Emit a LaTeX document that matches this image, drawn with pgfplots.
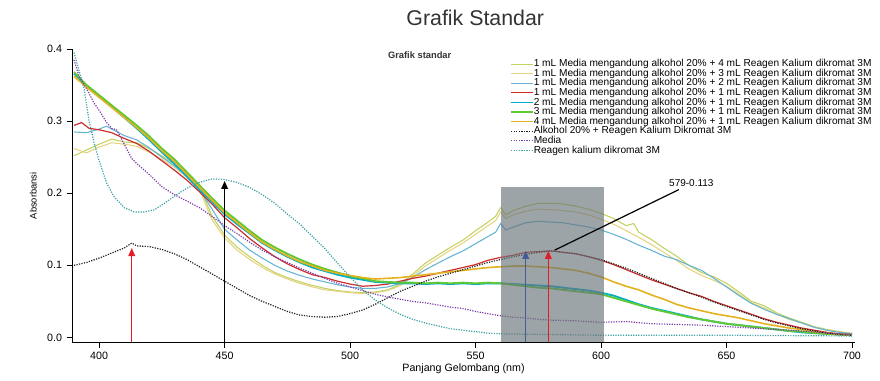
\documentclass[border=0pt]{standalone}
\usepackage{fontspec}
\setmainfont{Liberation Sans}
\usepackage{pgfplots}
\pgfplotsset{compat=1.18}
\usetikzlibrary{arrows.meta}
\definecolor{cA}{RGB}{195,210,95}
\definecolor{cB}{RGB}{228,212,130}
\definecolor{cC}{RGB}{100,180,210}
\definecolor{cD}{RGB}{205,45,45}
\definecolor{cE}{RGB}{0,175,205}
\definecolor{cF}{RGB}{95,200,50}
\definecolor{cG}{RGB}{228,178,30}
\definecolor{cH}{RGB}{30,30,30}
\definecolor{cI}{RGB}{125,60,170}
\definecolor{cJ}{RGB}{60,160,165}
\definecolor{grayfill}{RGB}{105,115,120}
\definecolor{arrblue}{RGB}{70,90,150}
\definecolor{arrred}{RGB}{225,30,35}
\begin{document}
\begin{tikzpicture}
\begin{axis}[
  scale only axis, width=587pt, height=220pt,
  xmin=389.2, xmax=701.2, ymin=-0.007, ymax=0.4,
  axis x line*=bottom, axis y line*=left,
  axis line style={-, black, line width=0.5pt},
  xtick={400,450,...,700}, ytick={0,0.1,0.2,0.3,0.4},
  tick align=outside, major tick length=4pt,
  tick style={black, line width=0.5pt},
  tick label style={font=\fontsize{8}{9}\selectfont},
  /pgf/number format/assume math mode=true,
  yticklabel style={/pgf/number format/.cd, fixed, precision=1, fixed zerofill},
  xticklabel style={/pgf/number format/.cd, 1000 sep={}},
  xlabel={Panjang Gelombang (nm)}, ylabel={Absorbansi},
  every axis x label/.style={at={(rel axis cs:0.5,0)}, yshift=-20pt, anchor=center, font=\fontsize{8}{9}\selectfont},
  every axis y label/.style={at={(rel axis cs:0,0.5)}, xshift=-29pt, rotate=90, anchor=center, font=\fontsize{7}{8}\selectfont},
  clip=false,
  legend style={at={(0.5594,0.966)}, anchor=north west, draw=none, fill=none,
    font=\fontsize{7.6}{7.6}\selectfont, row sep=0pt, inner sep=0pt,
    nodes={inner sep=0.2pt, text height=5.3pt, text depth=1.5pt}},
  legend image code/.code={\draw[#1] (0pt,0pt) -- (16pt,0pt);},
  legend cell align=left,
]
% 1 mL + 4 mL
\addplot[cA, line width=0.8pt] coordinates {(390,0.252)(395,0.260)(400,0.268)(405,0.275)(410,0.271)(415,0.270)(420,0.262)(425,0.252)(430,0.240)(435,0.226)(440,0.210)(445,0.168)(450,0.142)(455,0.125)(460,0.112)(465,0.100)(470,0.090)(475,0.083)(480,0.077)(485,0.072)(490,0.068)(495,0.065)(500,0.063)(505,0.062)(510,0.063)(515,0.066)(520,0.074)(525,0.088)(530,0.103)(535,0.114)(540,0.125)(545,0.135)(550,0.148)(555,0.160)(558,0.168)(560,0.180)(562,0.170)(565,0.176)(570,0.182)(575,0.186)(580,0.186)(585,0.185)(590,0.182)(595,0.178)(600,0.172)(605,0.165)(610,0.155)(613,0.158)(615,0.146)(620,0.136)(625,0.124)(630,0.113)(635,0.100)(640,0.090)(645,0.084)(650,0.075)(655,0.063)(660,0.050)(665,0.044)(670,0.034)(675,0.027)(680,0.021)(685,0.015)(690,0.011)(695,0.008)(700,0.006)};
\addlegendentry{1 mL Media mengandung alkohol 20\% + 4 mL Reagen Kalium dikromat 3M}
% 1 mL + 3 mL
\addplot[cB, line width=0.8pt] coordinates {(390,0.262)(395,0.256)(400,0.264)(405,0.270)(410,0.268)(415,0.265)(420,0.257)(425,0.247)(430,0.236)(435,0.222)(440,0.205)(445,0.163)(450,0.138)(455,0.121)(460,0.108)(465,0.097)(470,0.088)(475,0.081)(480,0.075)(485,0.070)(490,0.066)(495,0.064)(500,0.062)(505,0.061)(510,0.062)(515,0.065)(520,0.072)(525,0.085)(530,0.099)(535,0.110)(540,0.121)(545,0.131)(550,0.143)(555,0.155)(558,0.162)(560,0.174)(562,0.165)(565,0.170)(570,0.175)(575,0.178)(580,0.177)(585,0.176)(590,0.174)(595,0.170)(600,0.164)(605,0.157)(610,0.148)(615,0.139)(620,0.129)(625,0.118)(630,0.107)(635,0.095)(640,0.086)(645,0.079)(650,0.071)(655,0.060)(660,0.048)(665,0.041)(670,0.032)(675,0.025)(680,0.020)(685,0.014)(690,0.010)(695,0.007)(700,0.005)};
\addlegendentry{1 mL Media mengandung alkohol 20\% + 3 mL Reagen Kalium dikromat 3M}
% 1 mL + 2 mL
\addplot[cC, line width=0.8pt] coordinates {(390,0.285)(395,0.284)(400,0.289)(403,0.293)(405,0.289)(410,0.280)(415,0.274)(420,0.263)(425,0.250)(430,0.238)(435,0.224)(440,0.205)(445,0.178)(450,0.150)(455,0.135)(460,0.121)(465,0.110)(470,0.100)(475,0.092)(480,0.086)(485,0.081)(490,0.077)(495,0.073)(500,0.070)(505,0.068)(510,0.068)(515,0.070)(520,0.075)(525,0.083)(530,0.094)(535,0.103)(540,0.112)(545,0.120)(550,0.130)(555,0.140)(558,0.146)(560,0.158)(562,0.149)(565,0.153)(570,0.159)(575,0.161)(580,0.160)(585,0.159)(590,0.156)(595,0.153)(600,0.149)(605,0.143)(610,0.136)(615,0.128)(620,0.121)(625,0.113)(630,0.108)(635,0.100)(640,0.093)(645,0.082)(650,0.070)(655,0.058)(660,0.047)(665,0.039)(670,0.032)(675,0.026)(680,0.020)(685,0.014)(690,0.010)(695,0.007)(700,0.005)};
\addlegendentry{1 mL Media mengandung alkohol 20\% + 2 mL Reagen Kalium dikromat 3M}
% 1 mL + 1 mL
\addplot[cD, line width=0.9pt] coordinates {(390,0.294)(393,0.298)(396,0.290)(400,0.288)(405,0.284)(410,0.276)(415,0.269)(420,0.258)(425,0.245)(430,0.232)(435,0.218)(440,0.202)(445,0.185)(450,0.166)(455,0.152)(460,0.137)(465,0.124)(470,0.112)(475,0.102)(480,0.094)(485,0.087)(490,0.083)(495,0.078)(500,0.074)(505,0.071)(510,0.072)(515,0.074)(520,0.078)(525,0.082)(530,0.085)(535,0.089)(540,0.093)(545,0.097)(550,0.101)(555,0.107)(560,0.111)(565,0.114)(570,0.118)(575,0.119)(580,0.120)(585,0.118)(590,0.116)(595,0.112)(600,0.107)(605,0.101)(610,0.094)(615,0.087)(620,0.080)(625,0.074)(630,0.068)(635,0.062)(640,0.057)(645,0.050)(650,0.044)(655,0.038)(660,0.032)(665,0.026)(670,0.021)(675,0.017)(680,0.013)(685,0.010)(690,0.007)(695,0.005)(700,0.004)};
\addlegendentry{1 mL Media mengandung alkohol 20\% + 1 mL Reagen Kalium dikromat 3M}
% 2 mL
\addplot[cE, line width=1.4pt] coordinates {(390,0.366)(395,0.349)(400,0.334)(405,0.320)(410,0.305)(415,0.290)(420,0.274)(425,0.257)(430,0.241)(435,0.223)(440,0.205)(445,0.188)(450,0.171)(455,0.157)(460,0.144)(465,0.131)(470,0.121)(475,0.112)(480,0.104)(485,0.097)(490,0.092)(495,0.087)(500,0.083)(505,0.080)(510,0.077)(515,0.076)(520,0.075)(525,0.075)(530,0.074)(535,0.075)(540,0.074)(545,0.075)(550,0.074)(555,0.075)(560,0.075)(565,0.074)(570,0.073)(575,0.072)(580,0.071)(585,0.069)(590,0.067)(595,0.065)(600,0.062)(605,0.058)(610,0.052)(615,0.046)(620,0.041)(625,0.037)(630,0.033)(635,0.029)(640,0.025)(645,0.022)(650,0.019)(655,0.017)(660,0.015)(665,0.013)(670,0.011)(675,0.009)(680,0.007)(685,0.006)(690,0.005)(695,0.004)(700,0.003)};
\addlegendentry{2 mL Media mengandung alkohol 20\% + 1 mL Reagen Kalium dikromat 3M}
% 3 mL
\addplot[cF, line width=1.4pt] coordinates {(390,0.368)(395,0.350)(400,0.336)(405,0.322)(410,0.308)(415,0.294)(420,0.279)(425,0.262)(430,0.247)(435,0.229)(440,0.211)(445,0.193)(450,0.176)(455,0.162)(460,0.148)(465,0.135)(470,0.125)(475,0.116)(480,0.108)(485,0.101)(490,0.095)(495,0.090)(500,0.085)(505,0.082)(510,0.078)(515,0.077)(520,0.076)(525,0.076)(530,0.075)(535,0.076)(540,0.075)(545,0.076)(550,0.075)(555,0.076)(560,0.075)(565,0.073)(570,0.071)(575,0.069)(580,0.068)(585,0.066)(590,0.064)(595,0.062)(600,0.060)(605,0.055)(610,0.050)(615,0.045)(620,0.040)(625,0.036)(630,0.032)(635,0.028)(640,0.025)(645,0.022)(650,0.019)(655,0.017)(660,0.015)(665,0.013)(670,0.011)(675,0.009)(680,0.008)(685,0.006)(690,0.005)(695,0.004)(700,0.003)};
\addlegendentry{3 mL Media mengandung alkohol 20\% + 1 mL Reagen Kalium dikromat 3M}
% 4 mL
\addplot[cG, line width=1.2pt] coordinates {(390,0.362)(395,0.347)(400,0.333)(405,0.319)(410,0.305)(415,0.291)(420,0.276)(425,0.259)(430,0.244)(435,0.226)(440,0.208)(445,0.190)(450,0.173)(455,0.159)(460,0.145)(465,0.132)(470,0.122)(475,0.113)(480,0.105)(485,0.099)(490,0.093)(495,0.089)(500,0.086)(505,0.083)(510,0.081)(515,0.082)(520,0.083)(525,0.085)(530,0.087)(535,0.089)(540,0.091)(545,0.093)(550,0.095)(555,0.097)(560,0.098)(565,0.099)(570,0.099)(575,0.098)(580,0.097)(585,0.095)(590,0.093)(595,0.089)(600,0.084)(605,0.077)(610,0.071)(615,0.066)(620,0.059)(625,0.053)(630,0.046)(635,0.041)(640,0.037)(645,0.033)(650,0.030)(655,0.027)(660,0.023)(665,0.019)(670,0.016)(675,0.013)(680,0.011)(685,0.008)(690,0.006)(695,0.004)(700,0.003)};
\addlegendentry{4 mL Media mengandung alkohol 20\% + 1 mL Reagen Kalium dikromat 3M}
% Alkohol + Reagen
\addplot[cH, line width=0.9pt, densely dotted] coordinates {(390,0.100)(395,0.104)(400,0.110)(405,0.117)(410,0.124)(413,0.131)(415,0.127)(420,0.126)(425,0.122)(430,0.116)(435,0.108)(440,0.098)(445,0.088)(450,0.078)(455,0.068)(460,0.058)(465,0.050)(470,0.043)(475,0.036)(480,0.031)(485,0.029)(490,0.028)(495,0.029)(500,0.033)(505,0.038)(510,0.046)(515,0.055)(520,0.064)(525,0.071)(530,0.078)(535,0.084)(540,0.089)(545,0.094)(550,0.099)(555,0.104)(560,0.108)(565,0.112)(570,0.115)(575,0.118)(580,0.120)(585,0.118)(590,0.116)(595,0.112)(600,0.108)(605,0.102)(610,0.096)(615,0.089)(620,0.082)(625,0.075)(630,0.068)(635,0.062)(640,0.056)(645,0.049)(650,0.043)(655,0.037)(660,0.031)(665,0.025)(670,0.020)(675,0.016)(680,0.012)(685,0.009)(690,0.006)(695,0.004)(700,0.003)};
\addlegendentry{Alkohol 20\% + Reagen Kalium Dikromat 3M}
% Media
\addplot[cI, line width=0.9pt, densely dotted] coordinates {(390,0.385)(392,0.362)(395,0.345)(398,0.325)(400,0.315)(403,0.298)(405,0.290)(407,0.288)(410,0.268)(413,0.248)(416,0.238)(420,0.226)(425,0.209)(430,0.198)(435,0.189)(440,0.180)(445,0.168)(450,0.155)(455,0.144)(460,0.132)(465,0.121)(470,0.112)(475,0.104)(480,0.096)(485,0.089)(490,0.082)(495,0.075)(500,0.070)(505,0.065)(510,0.060)(515,0.056)(520,0.053)(525,0.050)(530,0.048)(535,0.045)(540,0.042)(545,0.040)(550,0.036)(555,0.033)(560,0.030)(565,0.028)(570,0.027)(575,0.025)(580,0.024)(590,0.023)(600,0.021)(610,0.022)(620,0.019)(630,0.018)(640,0.017)(650,0.015)(660,0.013)(670,0.011)(680,0.009)(690,0.006)(700,0.004)};
\addlegendentry{Media}
% Reagen
\addplot[cJ, line width=0.9pt, densely dotted] coordinates {(390,0.395)(392,0.370)(394,0.345)(396,0.300)(398,0.270)(400,0.245)(403,0.214)(406,0.195)(410,0.180)(414,0.174)(418,0.174)(422,0.177)(426,0.186)(430,0.196)(435,0.207)(440,0.215)(445,0.220)(450,0.219)(455,0.215)(460,0.208)(465,0.198)(470,0.186)(475,0.171)(480,0.157)(485,0.140)(490,0.123)(495,0.103)(500,0.084)(505,0.066)(510,0.052)(515,0.041)(520,0.032)(525,0.025)(530,0.020)(535,0.016)(540,0.012)(545,0.010)(550,0.008)(555,0.006)(560,0.005)(580,0.004)(600,0.003)(650,0.003)(700,0.002)};
\addlegendentry{Reagen kalium dikromat 3M}
% grey highlight
\addplot[fill=grayfill, fill opacity=0.65, draw=none, forget plot] coordinates {(560,-0.007)(601,-0.007)(601,0.208)(560,0.208)} -- cycle;
% arrows
\addplot[arrred, line width=1pt, -{Triangle[length=6pt,width=5pt]}, forget plot] coordinates {(413,-0.007)(413,0.124)};
\addplot[black, line width=1pt, -{Triangle[length=6pt,width=5pt]}, forget plot] coordinates {(450,-0.007)(450,0.217)};
\addplot[arrblue, line width=1pt, -{Triangle[length=6pt,width=5pt]}, forget plot] coordinates {(570,-0.007)(570,0.120)};
\addplot[arrred, line width=1pt, -{Triangle[length=6pt,width=5pt]}, forget plot] coordinates {(579,-0.007)(579,0.120)};
\addplot[black, line width=0.9pt, forget plot] coordinates {(581.5,0.121)(631,0.205)};
\node[font=\fontsize{7.5}{8}\selectfont] at (axis cs:636,0.214) {579-0.113};
\node[font=\fontsize{16}{18}\selectfont, text=black!80] at (rel axis cs:0.515,1) [yshift=23.25pt] {Grafik Standar};
\node[font=\bfseries\fontsize{7}{8}\selectfont, text=black!80] at (rel axis cs:0.444,0.98) {Grafik standar};
\coordinate (bl) at (rel axis cs:0,0);
\coordinate (tr) at (rel axis cs:1,1);
\end{axis}
\pgfresetboundingbox
\path ([shift={(-54pt,-28.5pt)}]bl) rectangle ([shift={(18.75pt,36.75pt)}]tr);
\end{tikzpicture}
\end{document}
